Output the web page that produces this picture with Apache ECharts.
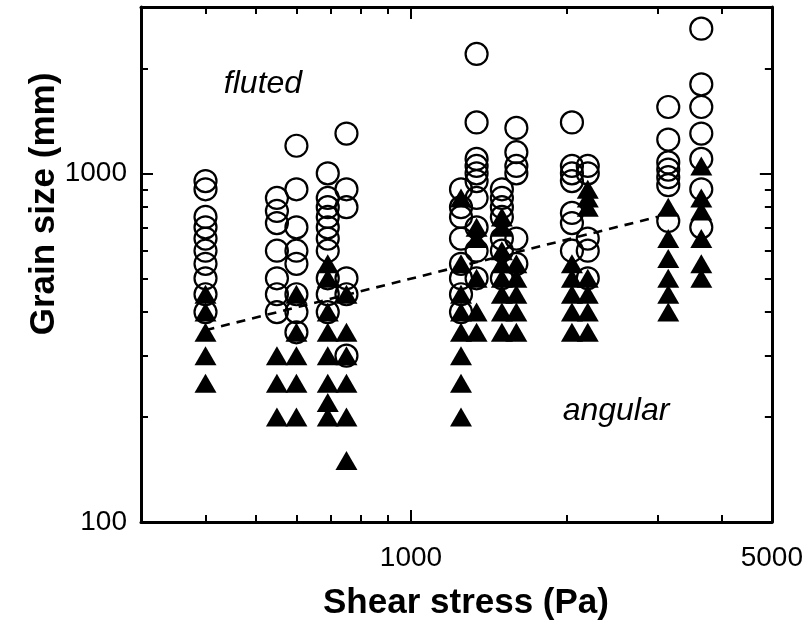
<!DOCTYPE html>
<html>
<head>
<meta charset="utf-8">
<script src="https://cdn.jsdelivr.net/npm/echarts@6/dist/echarts.min.js"></script>
<style>
html,body{margin:0;padding:0;background:#fff;}
#chart{width:806px;height:630px;}
</style>
</head>
<body>
<div id="chart"></div>
<script>
// ---- data (shear stress columns, Pa) ----
const stressColumns = [400, 550, 600, 690, 750, 1250, 1340, 1500, 1600, 2050, 2200, 3150, 3650];
// fluted grains (open circles), grain size mm, one list per column
const flutedSizes = [
  [950, 900, 750, 700, 650, 600, 550, 500, 450, 400],
  [850, 780, 720, 600, 500, 450, 400],
  [1200, 900, 700, 600, 550, 450, 400, 350],
  [1000, 850, 800, 750, 700, 650, 600, 500, 450, 400],
  [1300, 900, 800, 500, 450, 300],
  [900, 800, 750, 650, 550, 500, 450, 400],
  [2200, 1400, 1100, 1050, 1000, 950, 850, 700, 600, 500],
  [900, 850, 800, 750, 650, 600, 500],
  [1350, 1150, 1050, 1000, 650, 550],
  [1400, 1050, 1000, 950, 770, 720, 600],
  [1050, 1000, 650, 600, 500],
  [1550, 1250, 1075, 1025, 975, 925, 730],
  [2600, 1800, 1550, 1300, 1100, 900, 700]
];
// angular grains (filled triangles)
const angularSizes = [
  [450, 400, 350, 300, 250],
  [300, 250, 200],
  [450, 350, 300, 250, 200],
  [550, 500, 400, 350, 300, 250, 220, 200],
  [450, 350, 300, 250, 200, 150],
  [850, 550, 450, 400, 350, 300, 250, 200],
  [700, 650, 500, 400, 350],
  [750, 700, 600, 550, 500, 450, 400, 350],
  [550, 500, 450, 400, 350],
  [550, 500, 450, 400, 350],
  [900, 850, 800, 500, 450, 400, 350],
  [800, 650, 570, 500, 450, 400],
  [1050, 850, 780, 650, 550, 500]
];
// dashed trend line end points [stress, size]
const trendLine = [[400, 355], [3000, 750]];
// axes
const xRange = [300, 5000];
const yRange = [100, 3000];
const xLabelValues = [1000, 5000];
const xMajorTicks = [1000];
const xMinorTicks = [400, 500, 600, 700, 800, 900, 2000, 3000, 4000];
const yLabelValues = [100, 1000];
const yMajorTicks = [1000];
const yMinorTicks = [200, 300, 400, 500, 600, 700, 800, 900, 2000];
const xTitle = 'Shear stress (Pa)';
const yTitle = 'Grain size (mm)';
const labelFluted = 'fluted';
const labelAngular = 'angular';

function toPoints(cols, lists) {
  const out = [];
  lists.forEach((arr, i) => arr.forEach(v => out.push([cols[i], v])));
  return out;
}

const FONT = '"Liberation Sans", Arial, sans-serif';

function makeAxis(range, position, ticks, len, withLine, labels) {
  return {
    type: 'log', logBase: 10, min: range[0], max: range[1], position: position,
    axisLine: { show: withLine, onZero: false, lineStyle: { color: '#000', width: 3 } },
    axisTick: { show: true, inside: true, length: len, customValues: ticks, lineStyle: { color: '#000', width: 2 } },
    axisLabel: labels ? {
      show: true, customValues: labels, color: '#000', fontSize: 28, fontFamily: FONT,
      margin: position === 'bottom' ? 22 : 14,
      formatter: function (v) { return String(Math.round(v)); }
    } : { show: false },
    splitLine: { show: false }, minorTick: { show: false }, minorSplitLine: { show: false }
  };
}

const chart = echarts.init(document.getElementById('chart'), null, { renderer: 'canvas' });
chart.setOption({
  animation: false,
  backgroundColor: '#fff',
  grid: { left: 141, right: 34, top: 7, bottom: 108, containLabel: false },
  xAxis: [
    makeAxis(xRange, 'bottom', xMajorTicks, 12, true, xLabelValues),
    makeAxis(xRange, 'bottom', xMinorTicks, 7, false, null),
    makeAxis(xRange, 'top', xMajorTicks, 12, true, null),
    makeAxis(xRange, 'top', xMinorTicks, 7, false, null)
  ],
  yAxis: [
    makeAxis(yRange, 'left', yMajorTicks, 12, true, yLabelValues),
    makeAxis(yRange, 'left', yMinorTicks, 7, false, null),
    makeAxis(yRange, 'right', yMajorTicks, 12, true, null),
    makeAxis(yRange, 'right', yMinorTicks, 7, false, null)
  ],
  series: [
    {
      name: 'fluted', type: 'scatter', xAxisIndex: 0, yAxisIndex: 0,
      symbol: 'circle', symbolSize: 22,
      itemStyle: { color: 'rgba(0,0,0,0)', borderColor: '#000', borderWidth: 2.2, opacity: 1 },
      data: toPoints(stressColumns, flutedSizes), z: 2, silent: true
    },
    {
      name: 'trend', type: 'line', xAxisIndex: 0, yAxisIndex: 0,
      data: trendLine, showSymbol: false, symbol: 'none',
      lineStyle: { color: '#000', width: 2.6, type: [9, 7] }, z: 3, silent: true
    },
    {
      name: 'angular', type: 'scatter', xAxisIndex: 0, yAxisIndex: 0,
      symbol: 'triangle', symbolSize: [22, 19],
      itemStyle: { color: '#000', opacity: 1 },
      data: toPoints(stressColumns, angularSizes), z: 4, silent: true
    }
  ],
  graphic: [
    { type: 'text', x: 263, y: 84, style: { text: labelFluted, fill: '#000', font: 'italic 32px ' + FONT, align: 'center', verticalAlign: 'middle' } },
    { type: 'text', x: 616, y: 411, style: { text: labelAngular, fill: '#000', font: 'italic 32px ' + FONT, align: 'center', verticalAlign: 'middle' } },
    { type: 'text', x: 466, y: 603, style: { text: xTitle, fill: '#000', font: 'bold 35px ' + FONT, align: 'center', verticalAlign: 'middle' } },
    { type: 'text', x: 44, y: 204, rotation: Math.PI / 2, style: { text: yTitle, fill: '#000', font: 'bold 35px ' + FONT, align: 'center', verticalAlign: 'middle' } }
  ]
});
</script>
</body>
</html>
